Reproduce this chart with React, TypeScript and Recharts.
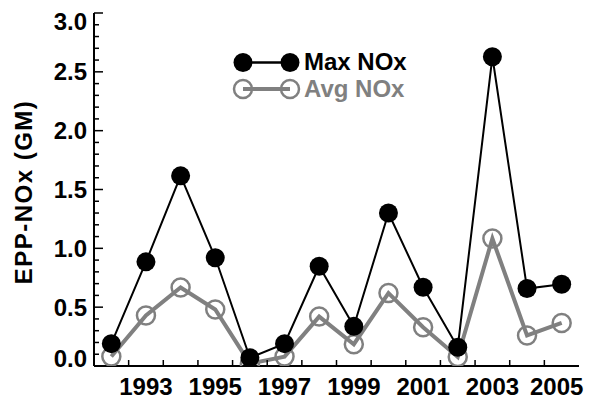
import React from 'react';
import { LineChart, Line, XAxis, YAxis } from 'recharts';

const years = [1992, 1993, 1994, 1995, 1996, 1997, 1998, 1999, 2000, 2001, 2002, 2003, 2004, 2005];
const maxNOx = [0.19, 0.885, 1.616, 0.92, 0.07, 0.19, 0.848, 0.337, 1.3, 0.67, 0.16, 2.628, 0.658, 0.695];
const avgNOx = [0.08, 0.43, 0.667, 0.48, 0.02, 0.08, 0.42, 0.185, 0.62, 0.33, 0.077, 1.083, 0.26, 0.366];

const xLabelYears = [1993, 1995, 1997, 1999, 2001, 2003, 2005];
const xTickMarks = [1992.5, 1993.5, 1994.5, 1995.5, 1996.5, 1997.5, 1998.5, 1999.5, 2000.5, 2001.5, 2002.5, 2003.5, 2004.5];
const yMajor = [0, 0.5, 1, 1.5, 2, 2.5, 3];
const yMinor = [0.1, 0.2, 0.3, 0.4, 0.6, 0.7, 0.8, 0.9, 1.1, 1.2, 1.3, 1.4, 1.6, 1.7, 1.8, 1.9, 2.1, 2.2, 2.3, 2.4, 2.6, 2.7, 2.8, 2.9];
const yTickLabels = ['0.0', '0.5', '1.0', '1.5', '2.0', '2.5', '3.0'];

const data = years.map((year, i) => ({ year, max: maxNOx[i], avg: avgNOx[i] }));
const xTicksAll = [...xTickMarks, ...xLabelYears].sort((a, b) => a - b);
const yTicksAll = [...yMajor, ...yMinor].sort((a, b) => a - b);

const FONT = '"Liberation Sans", Arial, Helvetica, sans-serif';
const GRAY = '#808080';

const isMajor = (v: number) => yMajor.some((m) => Math.abs(m - v) < 1e-6);

function BottomTick(props: any) {
  const { x, y, payload } = props;
  const v = payload.value;
  if (xLabelYears.includes(v)) {
    const dx = v === 2005 ? -5 : 0;
    return (
      <text x={x + dx} y={y + 29} textAnchor="middle" fontFamily={FONT} fontWeight="bold" fontSize={24} fill="#000">
        {String(v)}
      </text>
    );
  }
  return <line x1={x} y1={y} x2={x} y2={y - 6} stroke="#000" strokeWidth={1.5} />;
}

function TopTick(props: any) {
  const { x, y } = props;
  return <line x1={x} y1={y} x2={x} y2={y + 6} stroke="#000" strokeWidth={1.5} />;
}

function LeftTick(props: any) {
  const { x, y, payload } = props;
  const v = payload.value;
  if (isMajor(v)) {
    const idx = yMajor.findIndex((m) => Math.abs(m - v) < 1e-6);
    let by = y + 8.5;
    if (idx === 0) by = y + 0.5;
    if (idx === yMajor.length - 1) by = y + 17;
    return (
      <g>
        <line x1={x} y1={y} x2={x + 9} y2={y} stroke="#000" strokeWidth={1.5} />
        <text x={x - 7} y={by} textAnchor="end" fontFamily={FONT} fontWeight="bold" fontSize={24} fill="#000">
          {yTickLabels[idx]}
        </text>
      </g>
    );
  }
  return <line x1={x} y1={y} x2={x + 5} y2={y} stroke="#000" strokeWidth={1.5} />;
}

function RightTick(props: any) {
  const { x, y, payload } = props;
  const len = isMajor(payload.value) ? 9 : 5;
  return <line x1={x} y1={y} x2={x - len} y2={y} stroke="#000" strokeWidth={1.5} />;
}

function YTitle() {
  return (
    <text
      x={23}
      y={192}
      transform="rotate(-90 23 192)"
      textAnchor="middle"
      dominantBaseline="central"
      fontFamily={FONT}
      fontWeight="bold"
      fontSize={24}
      letterSpacing={1.5}
      fill="#000"
    >
      EPP-NOx (GM)
    </text>
  );
}

function LegendOverlay() {
  return (
    <svg width={592} height={400} style={{ position: 'absolute', left: 0, top: 0, pointerEvents: 'none' }}>
      <YTitle />
      <line x1={243} y1={62.5} x2={290} y2={62.5} stroke="#000" strokeWidth={2.5} />
      <circle cx={243} cy={62.5} r={9.5} fill="#000" />
      <circle cx={290} cy={62.5} r={9.5} fill="#000" />
      <text x={304} y={70} fontFamily={FONT} fontWeight="bold" fontSize={24} fill="#000">
        Max NOx
      </text>
      <line x1={243} y1={89} x2={290} y2={89} stroke={GRAY} strokeWidth={4} />
      <circle cx={243} cy={89} r={9} fill="none" stroke={GRAY} strokeWidth={2.5} />
      <circle cx={290} cy={89} r={9} fill="none" stroke={GRAY} strokeWidth={2.5} />
      <text x={304} y={97} fontFamily={FONT} fontWeight="bold" fontSize={24} fill={GRAY}>
        Avg NOx
      </text>
    </svg>
  );
}

export default function App() {
  return (
    <div style={{ position: 'absolute', left: 0, top: 0, width: 592, height: 400, background: '#fff' }}>
      <LineChart width={592} height={400} data={data} margin={{ top: 13, right: 13, left: 0, bottom: 0 }}>
        <XAxis
          xAxisId="bottom"
          dataKey="year"
          type="number"
          domain={[1991.5, 2005.5]}
          ticks={xTicksAll}
          interval={0}
          height={34}
          tickSize={0}
          tickMargin={0}
          tickLine={false}
          axisLine={{ stroke: '#000', strokeWidth: 2 }}
          tick={<BottomTick />}
          allowDataOverflow
        />
        <XAxis
          xAxisId="top"
          orientation="top"
          dataKey="year"
          type="number"
          domain={[1991.5, 2005.5]}
          ticks={xTickMarks}
          interval={0}
          height={0}
          tickSize={0}
          tickMargin={0}
          tickLine={false}
          axisLine={{ stroke: '#000', strokeWidth: 2 }}
          tick={<TopTick />}
          allowDataOverflow
        />
        <YAxis
          yAxisId="left"
          type="number"
          domain={[0, 3]}
          ticks={yTicksAll}
          interval={0}
          width={94}
          tickSize={0}
          tickMargin={0}
          tickLine={false}
          axisLine={{ stroke: '#000', strokeWidth: 2 }}
          tick={<LeftTick />}
          allowDataOverflow
        />
        <YAxis
          yAxisId="right"
          orientation="right"
          type="number"
          domain={[0, 3]}
          ticks={yTicksAll}
          interval={0}
          width={0}
          tickSize={0}
          tickMargin={0}
          tickLine={false}
          axisLine={{ stroke: '#000', strokeWidth: 2 }}
          tick={<RightTick />}
          allowDataOverflow
        />
        <Line
          xAxisId="bottom"
          yAxisId="left"
          type="linear"
          dataKey="avg"
          stroke={GRAY}
          strokeWidth={4}
          dot={{ r: 9, fill: 'none', stroke: GRAY, strokeWidth: 2.5 }}
          activeDot={false}
          isAnimationActive={false}
        />
        <Line
          xAxisId="bottom"
          yAxisId="left"
          type="linear"
          dataKey="max"
          stroke="#000"
          strokeWidth={2}
          dot={{ r: 9.5, fill: '#000', stroke: '#000', strokeWidth: 0 }}
          activeDot={false}
          isAnimationActive={false}
        />
      </LineChart>
      <LegendOverlay />
    </div>
  );
}
